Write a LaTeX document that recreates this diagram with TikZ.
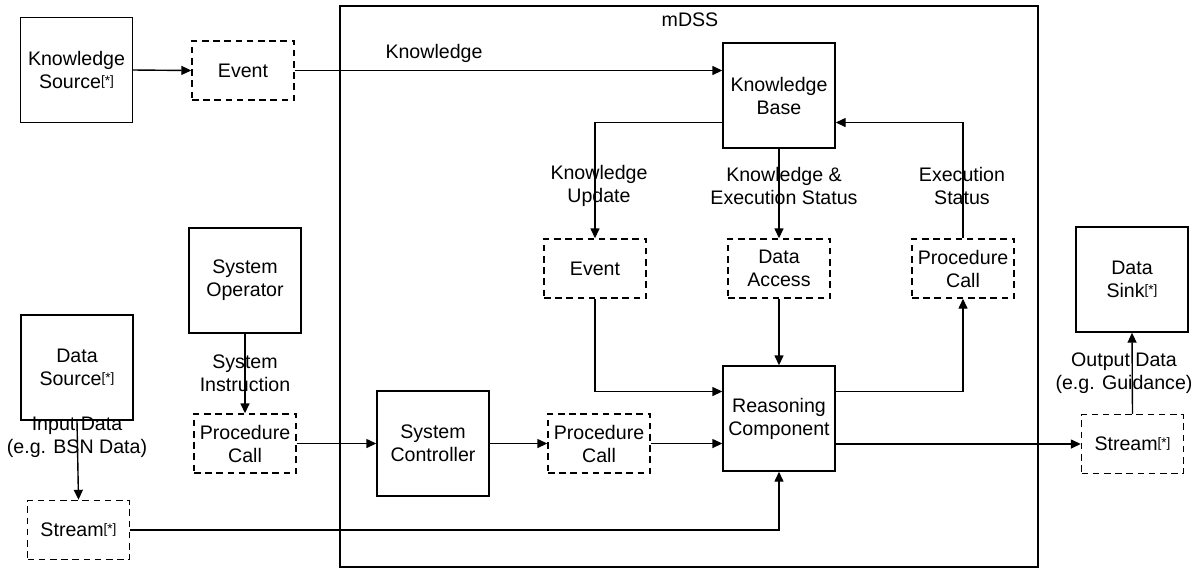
\documentclass[tikz,border=0pt]{standalone}
\usepackage{fontspec}
\setmainfont{Liberation Sans}
\usetikzlibrary{arrows.meta,calc}
\newcommand{\myast}{\raisebox{0.3ex}{\fontsize{6.8}{7}\selectfont[*]}}
\begin{document}
\begin{tikzpicture}[x=0.5pt,y=-0.5pt,
  every node/.style={font=\fontsize{9.8}{11.5}\selectfont, align=center, inner sep=0pt},
  solidbox/.style={draw, line width=0.7pt, minimum width=56pt, minimum height=52.5pt},
  dashbox/.style={draw, line width=0.7pt, dash pattern=on 3.3pt off 2.3pt, minimum width=51pt, minimum height=29.5pt},
  conn/.style={line width=0.7pt, -{Triangle[length=5pt,width=4.5pt]}},
  lbl/.style={}]
\useasboundingbox (0,0) rectangle (1200,570);
% container
\node[draw, line width=0.7pt, minimum width=349pt, minimum height=280.5pt] (mdss) at (689,286.5) {};
\node (mdsst) at (690,20) {mDSS};
% solid boxes
\node[solidbox] (ks) at (76.5,70) {Knowledge\\Source\myast};
\node[solidbox] (kb) at (779,95.5) {Knowledge\\Base};
\node[solidbox] (so) at (245,280.5) {System\\Operator};
\node[solidbox] (dsrc) at (77,367.5) {Data\\Source\myast};
\node[solidbox] (sink) at (1132,279.5) {Data\\Sink\myast};
\node[solidbox] (rc) at (779,418.5) {Reasoning\\Component};
\node[solidbox] (sc) at (433,443.5) {System\\Controller};
% dashed boxes
\node[dashbox] (ev1) at (243,70.5) {Event};
\node[dashbox] (ev2) at (595,268.5) {Event};
\node[dashbox] (da) at (779,268.5) {Data\\Access};
\node[dashbox] (pcr) at (963,268.5) {Procedure\\Call};
\node[dashbox] (pc1) at (245,443.5) {Procedure\\Call};
\node[dashbox] (pc2) at (599,443.5) {Procedure\\Call};
\node[dashbox] (st1) at (78.5,530) {Stream\myast};
\node[dashbox] (st2) at (1132.5,444) {Stream\myast};
% labels
\node[lbl] (lk) at (434,53) {Knowledge};
\node[lbl] (lku) at (599,186) {Knowledge\\Update};
\node[lbl] (lkes) at (784,186) {Knowledge \&\\Execution Status};
\node[lbl] (les) at (962,186) {Execution\\Status};
\node[lbl] (lsi) at (245,373) {System\\Instruction};
\node[lbl] (lid) at (77,437) {Input Data\\(e.g. BSN Data)};
\node[lbl] (lod) at (1124,373) {Output Data\\(e.g. Guidance)};
% connectors
\draw[conn] (ks.east) -- (ev1.west);
\draw[conn] (ev1.east) -- (ev1.east -| kb.west);
\draw[conn] ($(kb.west)+(0,27)$) -| (ev2.north);
\draw[conn] (kb.south) -- (da.north);
\draw[conn] (pcr.north) |- ($(kb.east)+(0,27)$);
\draw[conn] (ev2.south) |- ($(rc.west)+(0,-27)$);
\draw[conn] (da.south) -- (rc.north);
\draw[conn] ($(rc.east)+(0,-27)$) -| (pcr.south);
\draw[conn] (rc.east |- st2.west) -- (st2.west);
\draw[conn] (st2.north) -- (sink.south);
\draw[conn] (so.south) -- (pc1.north);
\draw[conn] (pc1.east) -- (sc.west);
\draw[conn] (sc.east) -- (pc2.west);
\draw[conn] (pc2.east) -- (rc.west |- pc2.east);
\draw[conn] (dsrc.south) -- (st1.north);
\draw[conn] (st1.east) -| (rc.south);
\end{tikzpicture}
\end{document}
